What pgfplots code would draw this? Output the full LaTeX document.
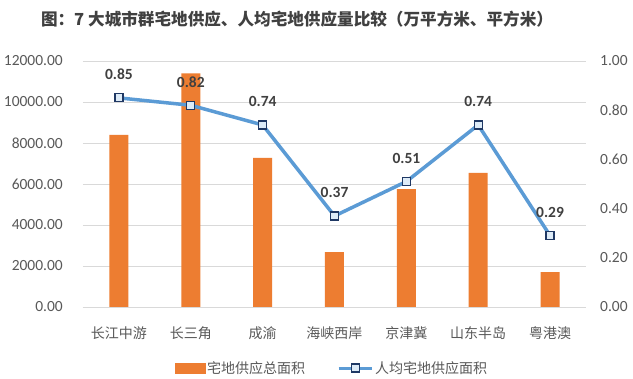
\documentclass[border=0pt]{standalone}
\usepackage{fontspec}
\setmainfont{Noto Sans CJK SC}
\newfontfamily\numfont{Carlito}
\usepackage{pgfplots}
\pgfplotsset{compat=1.18}
\definecolor{barorange}{HTML}{ED7D31}
\definecolor{lineblue}{HTML}{5B9BD5}
\definecolor{mkborder}{HTML}{1F3864}
\definecolor{mkfill}{HTML}{DDEBF7}
\definecolor{txtgray}{HTML}{595959}
\definecolor{titlegray}{HTML}{404040}
\definecolor{gridgray}{HTML}{D9D9D9}
\begin{document}
\begin{tikzpicture}[x=1pt,y=1pt]
\useasboundingbox (0,0) rectangle (633,379);
\fill[white] (0,0) rectangle (633,379);
\node[font=\fontsize{16.6}{18}\selectfont\bfseries, text=titlegray, inner sep=0pt] at (297,360) {图：7 大城市群宅地供应、人均宅地供应量比较（万平方米、平方米）};
\begin{axis}[
  at={(83pt,72pt)}, anchor=south west,
  width=503pt, height=246pt, scale only axis,
  xmin=-0.5, xmax=6.5, ymin=0, ymax=12000,
  ytick={0,2000,4000,6000,8000,10000,12000},
  scaled y ticks=false,
  ymajorgrids, grid style={gridgray, line width=0.8pt},
  axis line style={draw=none}, tick style={draw=none},
  xtick={0,1,2,3,4,5,6},
  xticklabels={长江中游,长三角,成渝,海峡西岸,京津冀,山东半岛,粤港澳},
  x tick label style={font=\fontsize{14}{16}\selectfont, text=txtgray, anchor=center, yshift=-26pt},
  /pgf/number format/assume math mode=true,
  yticklabel={\pgfmathprintnumber[fixed,fixed zerofill,precision=2,1000 sep={}]{\tick}},
  y tick label style={font=\numfont\fontsize{15.5}{17}\selectfont, text=txtgray, anchor=east, inner sep=0pt, xshift=-20pt},
  clip=false,
]
\addplot[ybar, bar width=19pt, fill=barorange, draw=none] coordinates {(0,8400) (1,11400) (2,7270) (3,2680) (4,5750) (5,6540) (6,1700)};
\draw[gridgray, line width=0.8pt] (axis cs:-0.5,0) -- (axis cs:6.5,0);
\end{axis}
\begin{axis}[
  at={(83pt,72pt)}, anchor=south west,
  width=503pt, height=246pt, scale only axis,
  xmin=-0.5, xmax=6.5, ymin=0, ymax=1,
  axis x line=none, axis y line*=right,
  axis line style={draw=none}, tick style={draw=none},
  ytick={0,0.2,0.4,0.6,0.8,1},
  /pgf/number format/assume math mode=true,
  yticklabel={\pgfmathprintnumber[fixed,fixed zerofill,precision=2]{\tick}},
  y tick label style={font=\numfont\fontsize{15.5}{17}\selectfont, text=txtgray, anchor=west, inner sep=0pt, xshift=14pt},
  clip=false,
  legend columns=2,
  legend style={at={(axis description cs:0.495,-0.248)}, anchor=center, draw=none, fill=none,
    font=\fontsize{14}{16}\selectfont, text=txtgray, inner sep=0pt,
    /tikz/every even column/.append style={column sep=30pt}},
]
\addlegendimage{legend image code/.code={\fill[barorange] (0pt,-5pt) rectangle (30pt,5pt);}}
\addlegendentry{宅地供应总面积}
\addplot[lineblue, line width=3.5pt, mark=square*, mark size=4pt,
  mark options={fill=mkfill, draw=mkborder, line width=1.2pt, solid},
  nodes near coords, point meta=explicit symbolic,
  nodes near coords style={font=\numfont\bfseries\fontsize{15.5}{17}\selectfont, text=titlegray, anchor=base, inner sep=0pt, yshift=18pt},
  legend image code/.code={\draw[lineblue, line width=3pt] (0pt,0pt) -- (33pt,0pt); \draw[mkborder, fill=mkfill, line width=1.2pt] (12.5pt,-4pt) rectangle (20.5pt,4pt);}
] coordinates {(0,0.85) [0.85] (1,0.82) [0.82] (2,0.74) [0.74] (3,0.37) [0.37] (4,0.51) [0.51] (5,0.74) [0.74] (6,0.29) [0.29]};
\addlegendentry{人均宅地供应面积}
\end{axis}
\end{tikzpicture}
\end{document}
